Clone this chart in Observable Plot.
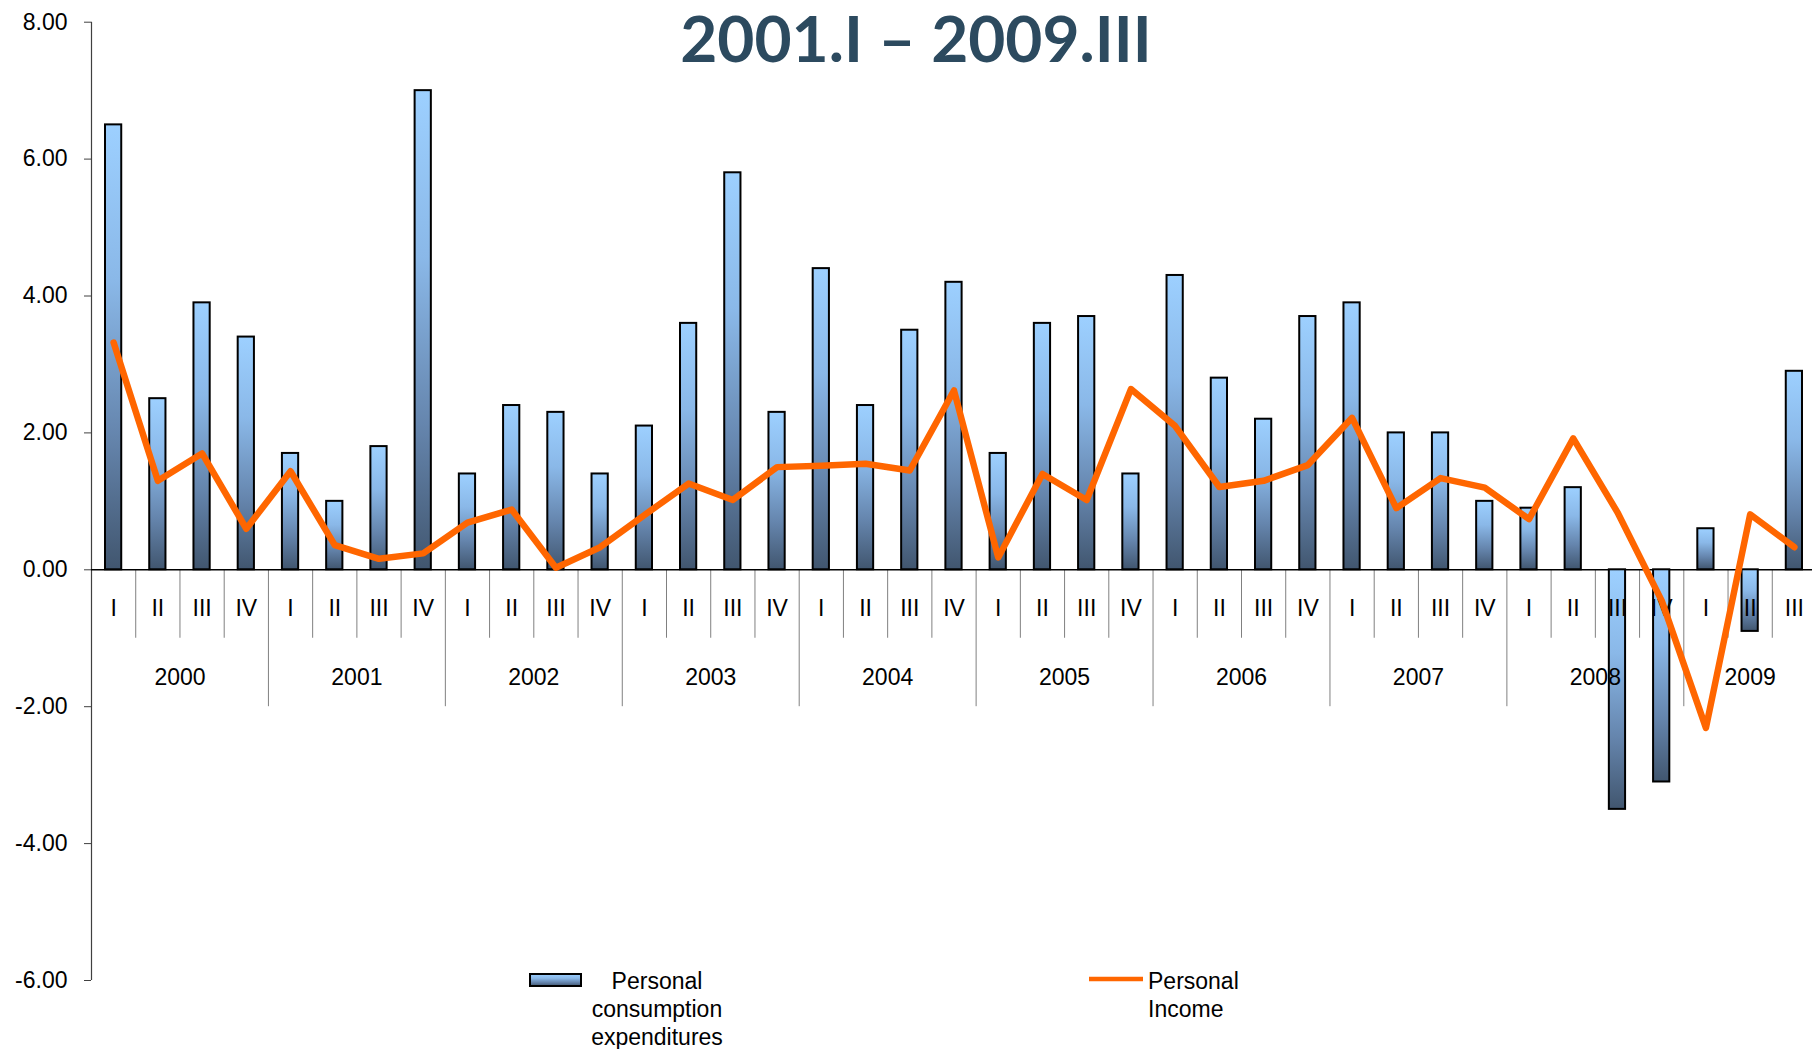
<!DOCTYPE html>
<html>
<head>
<meta charset="utf-8">
<script src="https://cdn.jsdelivr.net/npm/d3@7"></script>
<script src="https://cdn.jsdelivr.net/npm/@observablehq/plot@0.6"></script>
<style>
html, body { margin: 0; padding: 0; background: #fff; overflow: hidden; }
#wrap { position: relative; width: 1812px; height: 1049px; overflow: hidden; font-family: "Liberation Sans", Arial, sans-serif; }
#chart { position: absolute; left: 0; top: 0; }
#title { position: absolute; left: 0; top: 0; width: 1832px; text-align: center; font-family: Lato, "Open Sans", sans-serif; font-weight: 700; font-size: 64px; line-height: 1.2; color: #2c4a5f; white-space: nowrap; }
.leg { position: absolute; font-size: 23px; line-height: 28px; color: #000; white-space: nowrap; }
</style>
</head>
<body>
<div id="wrap">
  <div id="chart"></div>
  <div id="title">2001.I – 2009.III</div>
  <div id="legend"></div>
</div>
<script>
// ---- data ----
const years = ["2000","2001","2002","2003","2004","2005","2006","2007","2008","2009"];
const quarterLabels = ["I","II","III","IV"];
const quartersPerYear = [4,4,4,4,4,4,4,4,4,3];
const seriesNames = ["Personal consumption expenditures", "Personal Income"];
const pce = [
  6.5, 2.5, 3.9, 3.4,
  1.7, 1.0, 1.8, 7.0,
  1.4, 2.4, 2.3, 1.4,
  2.1, 3.6, 5.8, 2.3,
  4.4, 2.4, 3.5, 4.2,
  1.7, 3.6, 3.7, 1.4,
  4.3, 2.8, 2.2, 3.7,
  3.9, 2.0, 2.0, 1.0,
  0.9, 1.2, -3.5, -3.1,
  0.6, -0.9, 2.9
];
const income = [
  3.32, 1.30, 1.70, 0.60,
  1.44, 0.36, 0.16, 0.24,
  0.69, 0.88, 0.03, 0.33,
  0.80, 1.26, 1.02, 1.50,
  1.52, 1.55, 1.45, 2.62,
  0.18, 1.40, 1.02, 2.64,
  2.10, 1.21, 1.30, 1.53,
  2.22, 0.90, 1.34, 1.20,
  0.74, 1.92, 0.84, -0.45,
  -2.31, 0.81, 0.33
];
const yTicks = [-6, -4, -2, 0, 2, 4, 6, 8];

// ---- table ----
const rows = [];
let idx = 0;
years.forEach((yr, k) => {
  for (let j = 0; j < quartersPerYear[k]; j++) {
    rows.push({year: yr, quarter: quarterLabels[j], i: idx, pce: pce[idx], income: income[idx]});
    idx++;
  }
});
const yearSpans = years.map((yr, k) => {
  const s = rows.findIndex(r => r.year === yr);
  return {year: yr, start: s, end: s + quartersPerYear[k]};
});

const gradStops = [
  [0, "#9dd0ff"], [0.35, "#8ab8e8"], [0.7, "#6585ad"], [1, "#41566f"]
];

const chart = Plot.plot({
  width: 1816,
  height: 1049,
  marginLeft: 91,
  marginRight: 0,
  marginTop: 21.7,
  marginBottom: 69,
  style: {fontFamily: "'Liberation Sans', Arial, sans-serif", fontSize: "23px", background: "#fff", maxWidth: "none", overflow: "visible", color: "#000"},
  x: {domain: [0, rows.length], axis: null},
  y: {domain: [-6, 8]},
  marks: [
    Plot.ruleX(rows.slice(1), {x: "i", y1: 0, y2: d => d.quarter === "I" ? -2 : -1, stroke: "#808080", strokeWidth: 1}),
    Plot.axisY({ticks: yTicks, tickFormat: d => d.toFixed(2), tickSize: 7, tickPadding: 17, label: null, stroke: "#404040"}),
    Plot.ruleX([0], {stroke: "#404040", strokeWidth: 1.2}),
    Plot.ruleY([0], {stroke: "#000", strokeWidth: 1.5}),
    Plot.rectY(rows, {x1: "i", x2: d => d.i + 1, y1: 0, y2: "pce", fill: "url(#pceGrad)", stroke: "#000", strokeWidth: 2, insetLeft: 14, insetRight: 14}),
    Plot.text(rows, {x: d => d.i + 0.5, y: 0, dy: 39, text: "quarter", fill: "#000"}),
    Plot.text(yearSpans, {x: d => (d.start + d.end) / 2, y: 0, dy: 108, text: "year", fill: "#000"}),
    Plot.line(rows, {x: d => d.i + 0.5, y: "income", stroke: "#ff6600", strokeWidth: 6.5, strokeLinejoin: "round", strokeLinecap: "round"})
  ]
});

const defs = d3.select(chart).insert("defs", ":first-child");
const g = defs.append("linearGradient").attr("id", "pceGrad").attr("x1", 0).attr("y1", 0).attr("x2", 0).attr("y2", 1);
gradStops.forEach(([o, c]) => g.append("stop").attr("offset", o).attr("stop-color", c));
document.getElementById("chart").appendChild(chart);

// ---- legend ----
const legend = d3.select("#legend");
const sw = legend.append("svg").attr("width", 56).attr("height", 18)
  .style("position", "absolute").style("left", "528px").style("top", "972px");
sw.append("rect").attr("x", 2).attr("y", 2).attr("width", 51).attr("height", 12)
  .attr("fill", "url(#pceGrad)").attr("stroke", "#000").attr("stroke-width", 2);
legend.append("div").attr("class", "leg")
  .style("left", "557px").style("top", "967px").style("width", "200px").style("text-align", "center")
  .html(seriesNames[0].split(" ").join("<br>"));
const ls = legend.append("svg").attr("width", 60).attr("height", 12)
  .style("position", "absolute").style("left", "1086px").style("top", "973px");
ls.append("line").attr("x1", 3).attr("x2", 57).attr("y1", 6).attr("y2", 6)
  .attr("stroke", "#ff6600").attr("stroke-width", 4.5);
legend.append("div").attr("class", "leg")
  .style("left", "1148px").style("top", "967px")
  .html(seriesNames[1].split(" ").join("<br>"));
</script>
</body>
</html>
